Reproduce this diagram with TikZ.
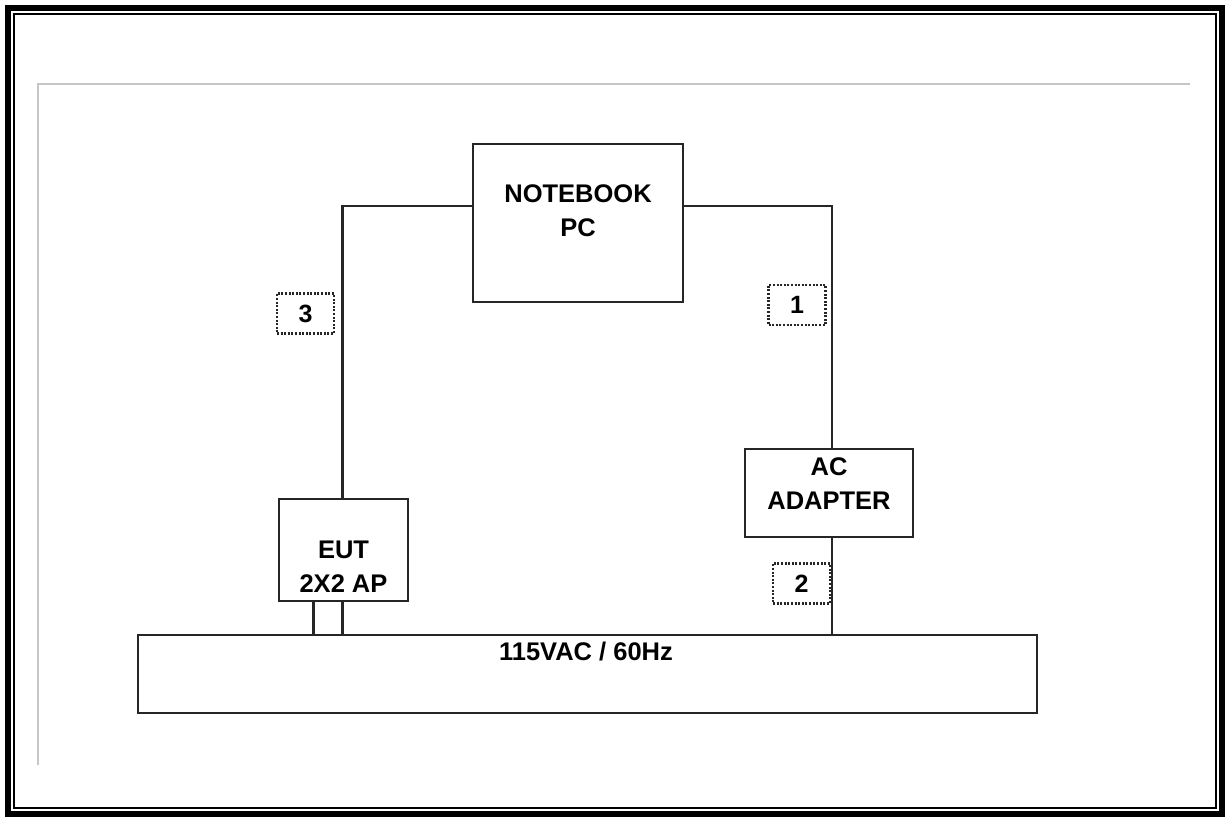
\documentclass[tikz,border=0pt]{standalone}
\usepackage{fontspec}
\setmainfont{Liberation Sans}
\begin{document}
\begin{tikzpicture}[x=1pt, y=-1pt,
    box/.style = {draw=black!85, line width=2.2pt, inner sep=0pt},
    tag/.style = {draw=black!85, line width=2.2pt, dash pattern=on 2pt off 1.6pt,
                  inner sep=0pt, minimum width=57pt, minimum height=40pt,
                  font=\bfseries\fontsize{25}{28}\selectfont},
    txt/.style = {align=center, font=\bfseries\fontsize{25.5}{34}\selectfont},
    wire/.style = {black!85, line width=2.2pt}]
    \useasboundingbox (0,0) rectangle (1226,817);

    % Bingkai luar
    \draw[line width=6pt] (8,8) rectangle (1222,814);
    \draw[line width=2pt] (14,14) rectangle (1216,808);
    \draw[gray!45, line width=2pt] (38,765) -- (38,84) -- (1190,84);

    % Kotak perangkat
    \node[box, minimum width=210pt, minimum height=158pt] (pc) at (578,223) {};
    \node[box, minimum width=129pt, minimum height=102pt] (eut) at (343.5,550) {};
    \node[box, minimum width=168pt, minimum height=88pt] (ac) at (829,493) {};
    \node[box, minimum width=899pt, minimum height=78pt] (bar) at (587.5,674) {};

    % Teks kotak
    \node[txt] (pctext) at (578,211) {NOTEBOOK\\PC};
    \node[txt] (euttext) at (343.5,567) {EUT\\2X2 AP};
    \node[txt] (actext) at (829,484) {AC\\ADAPTER};
    \node[txt] (bartext) at (586,652) {115VAC / 60Hz};

    % Kabel
    \draw[wire] ([yshift=17pt]pc.west) -| ([xshift=-1pt]eut.north);
    \draw[wire] ([yshift=17pt]pc.east) -| ([xshift=3pt]ac.north);
    \draw[wire] ([xshift=3pt]ac.south) -- ([xshift=3pt]ac.south |- bar.north);
    \draw[wire] ([xshift=-30pt]eut.south) -- ([xshift=-30pt]eut.south |- bar.north);
    \draw[wire] ([xshift=-1pt]eut.south) -- ([xshift=-1pt]eut.south |- bar.north);

    % Nomor kabel
    \node[tag] (c3) at (305.5,313.5) {3};
    \node[tag] (c1) at (797,305) {1};
    \node[tag] (c2) at (801.5,583.5) {2};
\end{tikzpicture}
\end{document}
